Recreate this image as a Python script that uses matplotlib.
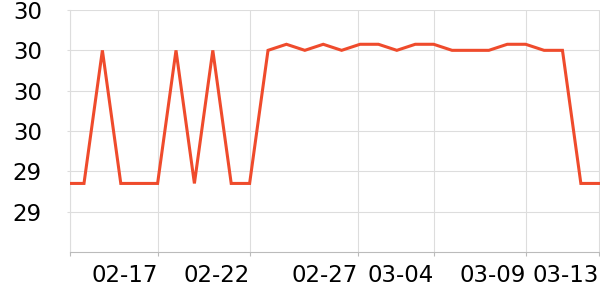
import matplotlib
matplotlib.use('Agg')
import matplotlib.pyplot as plt
from matplotlib.ticker import FormatStrFormatter

# daily values 02-12 .. 03-13
dates = ['02-12', '02-13', '02-14', '02-15', '02-16', '02-17', '02-18', '02-19',
         '02-20', '02-21', '02-22', '02-23', '02-24', '02-25', '02-26', '02-27',
         '02-28', '03-01', '03-02', '03-03', '03-04', '03-05', '03-06', '03-07',
         '03-08', '03-09', '03-10', '03-11', '03-12', '03-13']
values = [29.34, 29.34, 30.0, 29.34, 29.34, 29.34, 30.0, 29.34,
          30.0, 29.34, 29.34, 30.0, 30.03, 30.0, 30.03, 30.0,
          30.03, 30.03, 30.0, 30.03, 30.03, 30.0, 30.0, 30.0,
          30.03, 30.03, 30.0, 30.0, 29.34, 29.34]

tick_pos = [0.24, 5, 10, 15.9, 20, 25, 29]
tick_labels = ['', '02-17', '02-22', '02-27', '03-04', '03-09', '03-13']
y_ticks = [29.2, 29.4, 29.6, 29.8, 30.0, 30.2]

fig = plt.figure(figsize=(6, 3), dpi=100)
ax = fig.add_axes([70 / 600, 1 - 252 / 300, 530 / 600, 242 / 300])

x = list(range(len(dates)))
ax.plot(x, values, color='#ef4b2c', lw=2.2, solid_joinstyle='miter', zorder=3)

ax.set_xlim(0.24, 29.04)
ax.set_ylim(29.0, 30.2)

ax.set_xticks(tick_pos)
ax.set_xticklabels(tick_labels, ha='right')
ax.set_yticks(y_ticks)
ax.yaxis.set_major_formatter(FormatStrFormatter('%.0f'))

ax.grid(True, color='#dddddd', lw=0.8)
ax.set_axisbelow(True)

for s in ['top', 'right']:
    ax.spines[s].set_visible(False)
ax.spines['left'].set_color('#dddddd')
ax.spines['left'].set_linewidth(0.8)
ax.spines['bottom'].set_color('#bbbbbb')
ax.spines['bottom'].set_linewidth(0.8)

ax.tick_params(axis='x', length=3, width=0.8, color='#bbbbbb', pad=6, labelsize=16.5)
ax.tick_params(axis='y', length=2.2, width=0.8, color='#dddddd', pad=18, labelsize=16.5)

fig.savefig('out.png', dpi=100)
